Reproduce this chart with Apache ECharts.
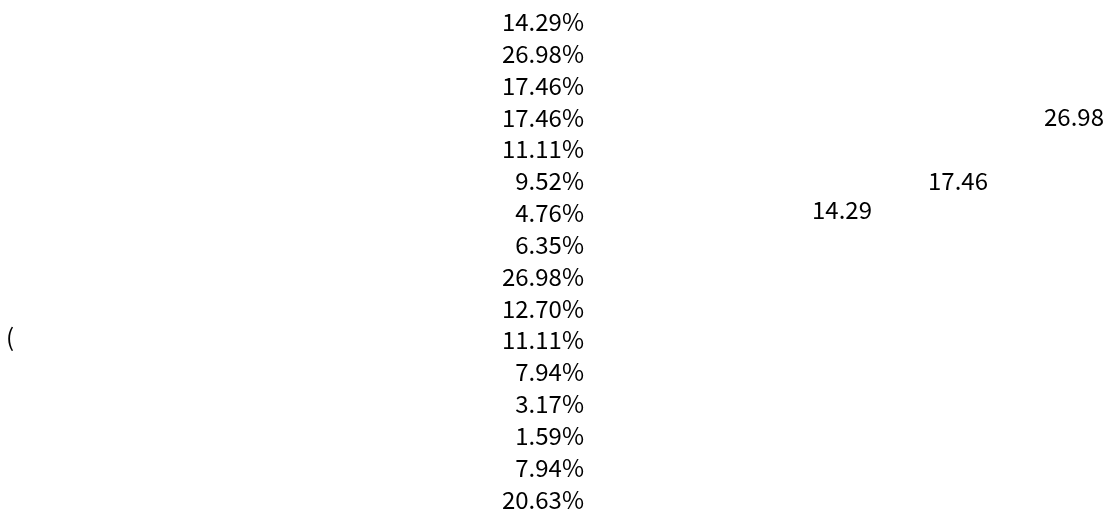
<!DOCTYPE html>
<html>
<head>
<meta charset="utf-8">
<script src="https://cdn.jsdelivr.net/npm/echarts@6/dist/echarts.min.js"></script>
<style>
html,body{margin:0;padding:0;background:#ffffff;}
#chart{width:1118px;height:516px;}
</style>
</head>
<body>
<div id="chart"></div>
<script>
// Row shares (%), top to bottom
const rowCategories = ['R1','R2','R3','R4','R5','R6','R7','R8','R9','R10','R11','R12','R13','R14','R15','R16'];
const rowValues = [14.29, 26.98, 17.46, 17.46, 11.11, 9.52, 4.76, 6.35, 26.98, 12.70, 11.11, 7.94, 3.17, 1.59, 7.94, 20.63];

// Group values (right-hand labels)
const groupCategories = ['G1', 'G2', 'G3'];
const groupValues = [14.29, 17.46, 26.98];

// Stray text at left
const sideText = '(';

const FONT = '"Noto Sans CJK SC", sans-serif';
const FS = 24;

const chart = echarts.init(document.getElementById('chart'), null, {renderer: 'canvas'});
chart.setOption({
  animation: false,
  backgroundColor: '#ffffff',
  title: {
    text: sideText,
    left: 6,
    top: 325,
    padding: 0,
    textStyle: {fontFamily: FONT, fontSize: FS, fontWeight: 'normal', color: '#000'}
  },
  grid: [
    {left: 589, width: 300, top: 6, bottom: 0.5},
    {left: 842, width: 232, top: 118.6, bottom: 236.1}
  ],
  xAxis: [
    {type: 'value', gridIndex: 0, min: 0, max: 30, show: false},
    {type: 'category', gridIndex: 1, data: groupCategories, boundaryGap: false, show: false}
  ],
  yAxis: [
    {type: 'category', gridIndex: 0, data: rowCategories, inverse: true, show: false},
    {type: 'log', gridIndex: 1, min: 10, max: 30, show: false}
  ],
  series: [
    {
      type: 'bar',
      xAxisIndex: 0, yAxisIndex: 0,
      data: rowValues,
      barWidth: '60%',
      itemStyle: {color: 'rgba(0,0,0,0)'},
      label: {
        show: true,
        position: 'left',
        distance: 5,
        color: '#000',
        fontFamily: FONT,
        fontSize: FS,
        formatter: p => p.value.toFixed(2) + '%'
      }
    },
    {
      type: 'scatter',
      xAxisIndex: 1, yAxisIndex: 1,
      data: groupValues,
      symbolSize: 1,
      itemStyle: {color: 'rgba(0,0,0,0)', opacity: 1},
      label: {
        show: true,
        position: 'top',
        distance: 5,
        color: '#000',
        fontFamily: FONT,
        fontSize: FS,
        formatter: p => p.value.toFixed(2)
      }
    }
  ]
});
</script>
</body>
</html>
